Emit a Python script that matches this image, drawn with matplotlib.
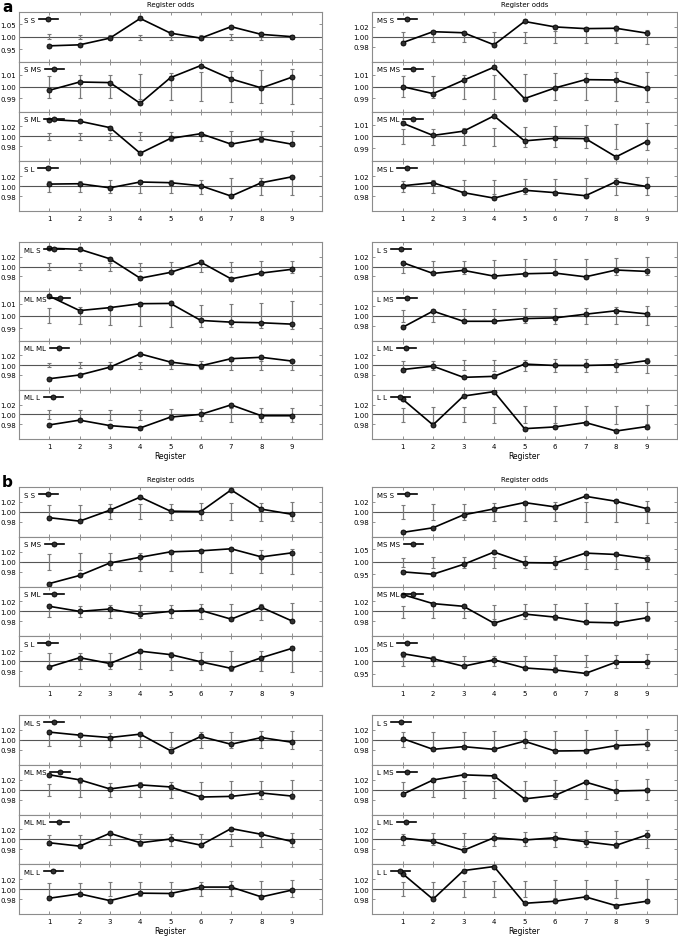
import numpy as np
import matplotlib
matplotlib.use('Agg')
import matplotlib.pyplot as plt

registers = [1, 2, 3, 4, 5, 6, 7, 8, 9]
kinds = ['S', 'MS', 'ML', 'L']

# ---- panel a ----
a_S_odds = [[0.964, 0.968, 0.995, 1.074, 1.015, 0.995, 1.041, 1.010, 1.001],
            [0.9969, 1.0039, 1.0034, 0.9859, 1.0076, 1.0178, 1.0065, 0.9989, 1.0079],
            [1.0339, 1.0305, 1.0176, 0.9661, 0.9959, 1.0054, 0.9844, 0.9953, 0.9844],
            [1.0041, 1.0048, 0.9966, 1.0083, 1.0069, 1.0007, 0.980, 1.0069, 1.0186]]
a_S_lo = [[0.9898, 0.9898, 0.991, 0.9885, 0.9885, 0.991, 0.9885, 0.9885, 0.9923],
          [0.9907, 0.9907, 0.9901, 0.9893, 0.9887, 0.9879, 0.9870, 0.9865, 0.9853],
          [0.9932, 0.9932, 0.9932, 0.9919, 0.9912, 0.9905, 0.9892, 0.9885, 0.9878],
          [0.9876, 0.9876, 0.9862, 0.9855, 0.9855, 0.9841, 0.9807, 0.9814, 0.9814]]
a_S_hi = [[1.0102, 1.009, 1.0077, 1.009, 1.0102, 1.009, 1.0102, 1.0128, 1.0077],
          [1.0093, 1.0099, 1.0101, 1.0107, 1.0113, 1.0124, 1.0133, 1.0141, 1.0152],
          [1.0068, 1.0068, 1.0068, 1.0081, 1.0088, 1.0095, 1.0102, 1.0115, 1.0115],
          [1.0110, 1.0110, 1.0117, 1.0124, 1.0124, 1.0131, 1.0159, 1.0166, 1.0180]]

a_MS_odds = [[0.9883, 1.0104, 1.0083, 0.9841, 1.031, 1.020, 1.0166, 1.0173, 1.0076],
             [1.000, 0.9941, 1.0054, 1.0164, 0.9899, 0.9989, 1.0059, 1.0056, 0.9986],
             [1.0112, 1.0008, 1.0044, 1.0173, 0.9962, 0.9984, 0.9981, 0.9827, 0.9956],
             [1.0007, 1.0069, 0.9869, 0.9759, 0.9917, 0.9869, 0.9807, 1.0090, 0.9993]]
a_MS_lo = [[0.9897, 0.9903, 0.9897, 0.9876, 0.9883, 0.9876, 0.9869, 0.9869, 0.9848],
           [0.9913, 0.9907, 0.9899, 0.9899, 0.9893, 0.9887, 0.9884, 0.9879, 0.9873],
           [0.9932, 0.9926, 0.9923, 0.9918, 0.9912, 0.9907, 0.9901, 0.9893, 0.9888],
           [0.9876, 0.9869, 0.9855, 0.9841, 0.9841, 0.9828, 0.9807, 0.9828, 0.9820]]
a_MS_hi = [[1.0090, 1.0097, 1.0097, 1.0104, 1.0104, 1.0110, 1.0117, 1.0124, 1.0138],
           [1.0087, 1.0093, 1.0099, 1.0101, 1.0107, 1.0113, 1.0116, 1.0121, 1.0127],
           [1.0063, 1.0066, 1.0068, 1.0074, 1.0082, 1.0088, 1.0093, 1.0101, 1.0110],
           [1.0110, 1.0117, 1.0124, 1.0131, 1.0145, 1.0145, 1.0159, 1.0166, 1.0180]]

a_ML_odds = [[1.0373, 1.0352, 1.0159, 0.9765, 0.9883, 1.0090, 0.9752, 0.9869, 0.9945],
             [1.0160, 1.0043, 1.0067, 1.0099, 1.0101, 0.9963, 0.9949, 0.9944, 0.9933],
             [0.9724, 0.9800, 0.9959, 1.0228, 1.0062, 0.9986, 1.0131, 1.0159, 1.0083],
             [0.9786, 0.9883, 0.9772, 0.9724, 0.9945, 1.0000, 1.0193, 0.9972, 0.9972]]
a_ML_lo = [[0.9924, 0.9924, 0.9917, 0.9910, 0.9903, 0.9897, 0.9890, 0.9883, 0.9876],
           [0.9939, 0.9933, 0.9928, 0.9920, 0.9912, 0.9912, 0.9907, 0.9899, 0.9891],
           [0.9959, 0.9945, 0.9938, 0.9931, 0.9924, 0.9917, 0.9910, 0.9910, 0.9910],
           [0.9897, 0.9883, 0.9883, 0.9883, 0.9876, 0.9869, 0.9855, 0.9855, 0.9848]]
a_ML_hi = [[1.0069, 1.0076, 1.0083, 1.0083, 1.0090, 1.0090, 1.0097, 1.0110, 1.0117],
           [1.0067, 1.0072, 1.0077, 1.0083, 1.0088, 1.0091, 1.0096, 1.0104, 1.0117],
           [1.0048, 1.0055, 1.0062, 1.0069, 1.0076, 1.0076, 1.0083, 1.0083, 1.0090],
           [1.0083, 1.0090, 1.0097, 1.0097, 1.0104, 1.0110, 1.0124, 1.0131, 1.0138]]

a_L_odds = [[1.0083, 0.9862, 0.9924, 0.9807, 0.9855, 0.9869, 0.9793, 0.9931, 0.9903],
            [0.9766, 1.0097, 0.9890, 0.9890, 0.9945, 0.9959, 1.0034, 1.0103, 1.0041],
            [0.9910, 0.9979, 0.9752, 0.9772, 1.0021, 0.9993, 0.9993, 1.0007, 1.0090],
            [1.0310, 0.9786, 1.0372, 1.0462, 0.9710, 0.9745, 0.9834, 0.9662, 0.9752]]
a_L_lo = [[0.9876, 0.9869, 0.9855, 0.9841, 0.9841, 0.9841, 0.9834, 0.9828, 0.9820],
          [0.9883, 0.9876, 0.9862, 0.9862, 0.9848, 0.9841, 0.9834, 0.9828, 0.9814],
          [0.9917, 0.9910, 0.9897, 0.9890, 0.9876, 0.9869, 0.9862, 0.9855, 0.9841],
          [0.9855, 0.9848, 0.9841, 0.9834, 0.9828, 0.9821, 0.9814, 0.9807, 0.9800]]
a_L_hi = [[1.0097, 1.0117, 1.0124, 1.0138, 1.0145, 1.0152, 1.0159, 1.0173, 1.0186],
          [1.0117, 1.0124, 1.0138, 1.0145, 1.0152, 1.0159, 1.0166, 1.0173, 1.0193],
          [1.0076, 1.0083, 1.0097, 1.0104, 1.0110, 1.0117, 1.0124, 1.0131, 1.0145],
          [1.0138, 1.0145, 1.0152, 1.0159, 1.0166, 1.0172, 1.0172, 1.0179, 1.0186]]

# ---- panel b ----
b_S_odds = [[0.9883, 0.9814, 1.0034, 1.0297, 1.0014, 1.0007, 1.0441, 1.0055, 0.9952],
            [0.9559, 0.9722, 0.9973, 1.0088, 1.0197, 1.0217, 1.0258, 1.0095, 1.0176],
            [1.0102, 1.0000, 1.0047, 0.9939, 1.0000, 1.0020, 0.9844, 1.0081, 0.9810],
            [0.9883, 1.0069, 0.9952, 1.0200, 1.0131, 0.9986, 0.9855, 1.0069, 1.0255]]
b_S_lo = [[0.9862, 0.9855, 0.9855, 0.9848, 0.9841, 0.9834, 0.9828, 0.9814, 0.9807],
          [0.9837, 0.9830, 0.9823, 0.9810, 0.9803, 0.9790, 0.9776, 0.9769, 0.9749],
          [0.9885, 0.9878, 0.9871, 0.9864, 0.9858, 0.9851, 0.9837, 0.9831, 0.9817],
          [0.9855, 0.9848, 0.9841, 0.9834, 0.9828, 0.9821, 0.9807, 0.9800, 0.9786]]
b_S_hi = [[1.0138, 1.0138, 1.0152, 1.0159, 1.0166, 1.0172, 1.0186, 1.0186, 1.0200],
          [1.0156, 1.0169, 1.0176, 1.0183, 1.0203, 1.0217, 1.0224, 1.0231, 1.0244],
          [1.0108, 1.0115, 1.0122, 1.0129, 1.0136, 1.0142, 1.0149, 1.0156, 1.0176],
          [1.0159, 1.0166, 1.0172, 1.0179, 1.0186, 1.0193, 1.0200, 1.0207, 1.0221]]

b_MS_odds = [[0.9587, 0.9680, 0.9940, 1.0060, 1.0187, 1.0100, 1.0313, 1.0213, 1.0067],
             [0.9589, 0.9493, 0.9890, 1.0384, 0.9959, 0.9945, 1.0342, 1.0288, 1.0123],
             [1.0339, 1.0156, 1.0102, 0.9763, 0.9946, 0.9885, 0.9783, 0.9769, 0.9871],
             [1.0301, 1.0096, 0.9795, 1.0055, 0.9726, 0.9644, 0.9507, 0.9959, 0.9959]]
b_MS_lo = [[0.9847, 0.9833, 0.9827, 0.9820, 0.9813, 0.9807, 0.9793, 0.9787, 0.9773],
           [0.9767, 0.9753, 0.9753, 0.9740, 0.9726, 0.9712, 0.9712, 0.9699, 0.9685],
           [0.9871, 0.9864, 0.9858, 0.9844, 0.9837, 0.9824, 0.9817, 0.9803, 0.9797],
           [0.9822, 0.9808, 0.9795, 0.9795, 0.9781, 0.9767, 0.9753, 0.9740, 0.9726]]
b_MS_hi = [[1.0147, 1.0160, 1.0167, 1.0173, 1.0187, 1.0193, 1.0200, 1.0207, 1.0220],
           [1.0164, 1.0178, 1.0192, 1.0205, 1.0219, 1.0233, 1.0247, 1.0260, 1.0274],
           [1.0115, 1.0122, 1.0129, 1.0136, 1.0142, 1.0156, 1.0163, 1.0176, 1.0190],
           [1.0178, 1.0192, 1.0205, 1.0205, 1.0219, 1.0233, 1.0247, 1.0260, 1.0274]]

b_ML_odds = [[1.0156, 1.0095, 1.0047, 1.0115, 0.9783, 1.0068, 0.9912, 1.0047, 0.9953],
             [1.0298, 1.0197, 1.0014, 1.0095, 1.0054, 0.9851, 0.9864, 0.9932, 0.9871],
             [0.9932, 0.9864, 1.0122, 0.9932, 1.0007, 0.9885, 1.0217, 1.0102, 0.9959],
             [0.9817, 0.9905, 0.9769, 0.9919, 0.9912, 1.0041, 1.0041, 0.9844, 0.9980]]
b_ML_lo = [[0.9878, 0.9871, 0.9864, 0.9858, 0.9851, 0.9844, 0.9837, 0.9831, 0.9824],
           [0.9864, 0.9858, 0.9851, 0.9844, 0.9837, 0.9831, 0.9824, 0.9810, 0.9803],
           [0.9892, 0.9885, 0.9878, 0.9871, 0.9864, 0.9864, 0.9858, 0.9851, 0.9844],
           [0.9871, 0.9864, 0.9864, 0.9858, 0.9858, 0.9858, 0.9858, 0.9851, 0.9851]]
b_ML_hi = [[1.0122, 1.0129, 1.0136, 1.0142, 1.0149, 1.0156, 1.0163, 1.0169, 1.0183],
           [1.0122, 1.0129, 1.0142, 1.0149, 1.0156, 1.0163, 1.0169, 1.0183, 1.0197],
           [1.0081, 1.0088, 1.0095, 1.0102, 1.0108, 1.0108, 1.0115, 1.0122, 1.0129],
           [1.0122, 1.0129, 1.0136, 1.0142, 1.0142, 1.0149, 1.0156, 1.0169, 1.0176]]

b_L_odds = [[1.0027, 0.9810, 0.9864, 0.9810, 0.9973, 0.9776, 0.9783, 0.9885, 0.9912],
            [0.9905, 1.0193, 1.0297, 1.0276, 0.9814, 0.9883, 1.0152, 0.9972, 0.9986],
            [1.0027, 0.9960, 0.9780, 1.0033, 0.9987, 1.0033, 0.9953, 0.9880, 1.0087],
            [1.0312, 0.9797, 1.0373, 1.0454, 0.9715, 0.9756, 0.9844, 0.9668, 0.9756]]
b_L_lo = [[0.9858, 0.9851, 0.9844, 0.9837, 0.9830, 0.9824, 0.9817, 0.9810, 0.9797],
          [0.9862, 0.9848, 0.9841, 0.9834, 0.9828, 0.9814, 0.9807, 0.9800, 0.9786],
          [0.9887, 0.9880, 0.9873, 0.9867, 0.9860, 0.9853, 0.9847, 0.9833, 0.9820],
          [0.9864, 0.9858, 0.9851, 0.9844, 0.9837, 0.9831, 0.9824, 0.9817, 0.9810]]
b_L_hi = [[1.0149, 1.0156, 1.0163, 1.0169, 1.0176, 1.0183, 1.0190, 1.0197, 1.0210],
          [1.0152, 1.0159, 1.0166, 1.0172, 1.0179, 1.0186, 1.0193, 1.0200, 1.0214],
          [1.0113, 1.0120, 1.0127, 1.0133, 1.0140, 1.0153, 1.0160, 1.0167, 1.0180],
          [1.0142, 1.0149, 1.0156, 1.0163, 1.0169, 1.0176, 1.0183, 1.0190, 1.0197]]

# y half range and tick step of each stacked axis
a_S_ax = [(0.1, 0.05), (0.021, 0.01), (0.05, 0.02), (0.05, 0.02)]
a_MS_ax = [(0.05, 0.02), (0.021, 0.01), (0.021, 0.01), (0.05, 0.02)]
a_ML_ax = [(0.05, 0.02), (0.02, 0.01), (0.05, 0.02), (0.05, 0.02)]
a_L_ax = [(0.05, 0.02)] * 4
b_S_ax = [(0.05, 0.02)] * 4
b_MS_ax = [(0.05, 0.02), (0.1, 0.05), (0.05, 0.02), (0.1, 0.05)]
b_ML_ax = [(0.05, 0.02)] * 4
b_L_ax = [(0.05, 0.02)] * 4

W, H = 678, 937
fig = plt.figure(figsize=(W / 100, H / 100), dpi=100)
plt.rcParams['font.family'] = ['DejaVu Sans']

frame_c = '#8c8c8c'
col_x = [(19, 322), (372, 677)]


def draw_group(first, odds, lo, hi, axcfg, x01, y01, xlabel):
    x0, x1 = x01
    y0, y1 = y01
    h = (y1 - y0) / 4.0
    for i in range(4):
        top = y0 + i * h
        ax = fig.add_axes([x0 / W, 1 - (top + h) / H, (x1 - x0) / W, h / H])
        half, step = axcfg[i]
        ax.axhline(1.0, color='#555555', lw=0.8, zorder=1)
        ax.errorbar(registers, np.ones(9),
                    yerr=[1 - np.array(lo[i]), np.array(hi[i]) - 1],
                    fmt='none', ecolor='#7a7a7a', elinewidth=0.9,
                    capsize=1.6, capthick=0.8, zorder=2)
        ax.plot(registers, odds[i], color='black', lw=1.2, marker='o',
                ms=3.6, mfc='#303030', mec='black', mew=0.6, zorder=3,
                label=first + ' ' + kinds[i])
        ax.set_xlim(0, 10)
        ax.set_ylim(1 - half, 1 + half)
        ax.set_yticks([1 - step, 1.0, 1 + step])
        ax.set_yticklabels(['%.2f' % v for v in [1 - step, 1.0, 1 + step]])
        ax.set_xticks(registers)
        ax.tick_params(direction='in', length=2, width=0.5, color='#666666',
                       labelsize=5, pad=2, top=True, right=True)
        if i < 3:
            ax.set_xticklabels([])
        else:
            ax.tick_params(axis='x', pad=3)
        for s in ax.spines.values():
            s.set_color(frame_c)
            s.set_linewidth(0.8)
        ax.legend(loc='upper left', frameon=False, fontsize=5,
                  markerfirst=False, handlelength=2.8, handletextpad=0.6,
                  borderaxespad=0.3, borderpad=0.35, numpoints=1)
    if xlabel:
        fig.text((x0 + x1) / 2 / W, 1 - (y1 + 17) / H, 'Register',
                 ha='center', va='center', fontsize=5.5)


panels = [
    ('a', [(a_S_odds, a_S_lo, a_S_hi, a_S_ax), (a_MS_odds, a_MS_lo, a_MS_hi, a_MS_ax),
           (a_ML_odds, a_ML_lo, a_ML_hi, a_ML_ax), (a_L_odds, a_L_lo, a_L_hi, a_L_ax)],
     [(13, 212), (243, 440)]),
    ('b', [(b_S_odds, b_S_lo, b_S_hi, b_S_ax), (b_MS_odds, b_MS_lo, b_MS_hi, b_MS_ax),
           (b_ML_odds, b_ML_lo, b_ML_hi, b_ML_ax), (b_L_odds, b_L_lo, b_L_hi, b_L_ax)],
     [(488, 687), (716, 915)]),
]

for name, groups, rows in panels:
    for g, (odds, lo, hi, cfg) in enumerate(groups):
        r = g // 2
        c = g % 2
        draw_group(kinds[g], odds, lo, hi, cfg, col_x[c], rows[r], r == 1)
    ytop = rows[0][0]
    for c in range(2):
        fig.text((col_x[c][0] + col_x[c][1]) / 2 / W, 1 - (ytop - 8) / H,
                 'Register odds', ha='center', va='center', fontsize=5)
    fig.text(2 / W, 1 - (ytop - 13) / H, name, ha='left', va='top',
             fontsize=11, fontweight='bold')

fig.savefig('out.png', dpi=100)
